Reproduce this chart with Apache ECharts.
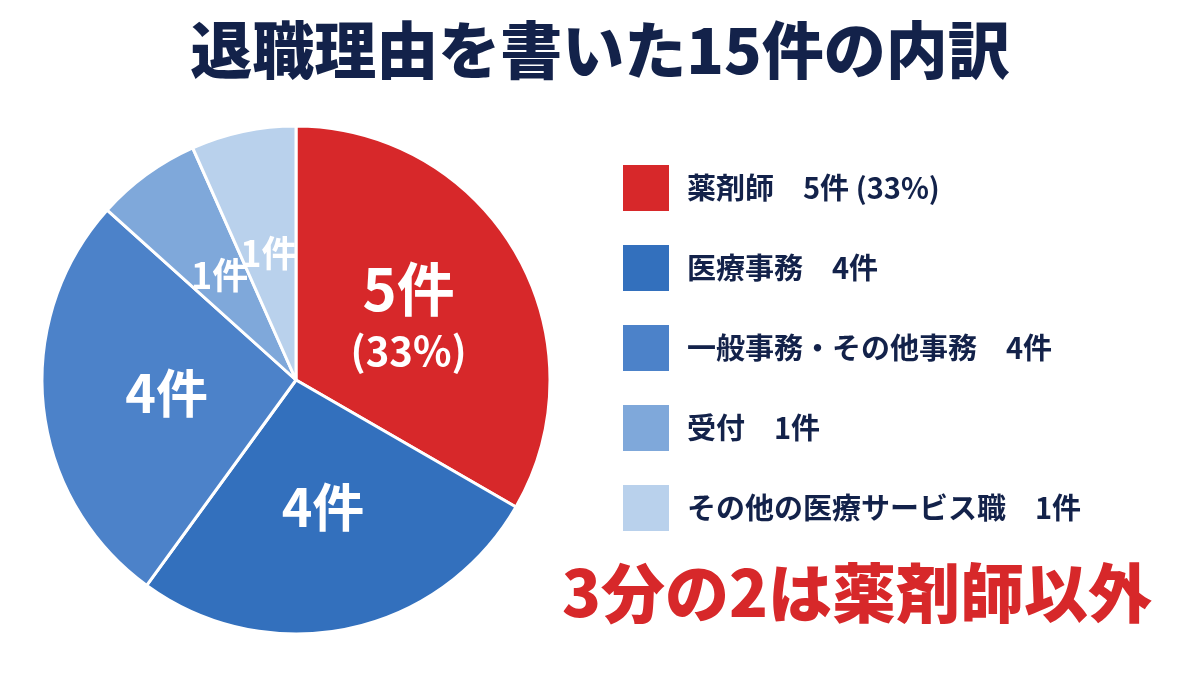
<!DOCTYPE html><html><head><meta charset="utf-8">
<script src="https://cdn.jsdelivr.net/npm/echarts@6/dist/echarts.min.js"></script>
<style>html,body{margin:0;background:#fff}#c{width:1200px;height:675px}</style></head><body><div id="c"></div>
<script>
const categories=['薬剤師','医療事務','一般事務・その他事務','受付','その他の医療サービス職'];
const counts=[5,4,4,1,1];
const legendSuffix=['5件 (33%)','4件','4件','1件','1件'];
const sliceLabels=['5件\n(33%)','4件','4件','1件','1件'];
const colors=['#d7282a','#3370bd','#4c82c9','#7fa8da','#b9d1ec'];
const font='"Noto Sans CJK JP"';
const chart=echarts.init(document.getElementById('c'));
chart.setOption({
 title:[{text:'退職理由を書いた15件の内訳',left:'center',top:14,textStyle:{fontFamily:font,fontWeight:900,fontSize:62,color:'#13224a'}},
  {text:'3分の2は薬剤師以外',left:852,textAlign:'center',top:556,textStyle:{fontFamily:font,fontWeight:900,fontSize:64,color:'#d7282a'}}],
 legend:{orient:'vertical',left:616,top:158,itemWidth:48,itemHeight:48,itemGap:30,icon:'rect',
  formatter:n=>{const i=categories.indexOf(n);return n+'　'+legendSuffix[i];},
  textStyle:{fontFamily:font,fontWeight:'bold',fontSize:29,color:'#13224a',padding:[0,0,0,12]}},
 series:[{type:'pie',center:[296,380],radius:[0,254],startAngle:90,clockwise:true,avoidLabelOverlap:false,
  labelLayout:{hideOverlap:false},
  itemStyle:{borderColor:'#fff',borderWidth:3},
  label:{show:true,position:'inside',fontFamily:font,color:'#fff',fontWeight:'bold',
   formatter:p=>sliceLabels[p.dataIndex].includes('\n')?'{b|5件}\n{s|(33%)}':'{m|'+sliceLabels[p.dataIndex]+'}',
   rich:{b:{fontSize:58,fontWeight:'bold',color:'#fff',fontFamily:font,lineHeight:72},s:{fontSize:40,fontWeight:'bold',color:'#fff',fontFamily:font,lineHeight:52},m:{fontSize:52,fontWeight:'bold',color:'#fff',fontFamily:font}}},
  labelLine:{show:false},
  data:categories.map((c,i)=>({name:c,value:counts[i],itemStyle:{color:colors[i]},
   label:i>=3?{rich:{m:{fontSize:36,fontWeight:'bold',color:'#fff',fontFamily:font}}}:undefined}))}]
});
</script></body></html>
